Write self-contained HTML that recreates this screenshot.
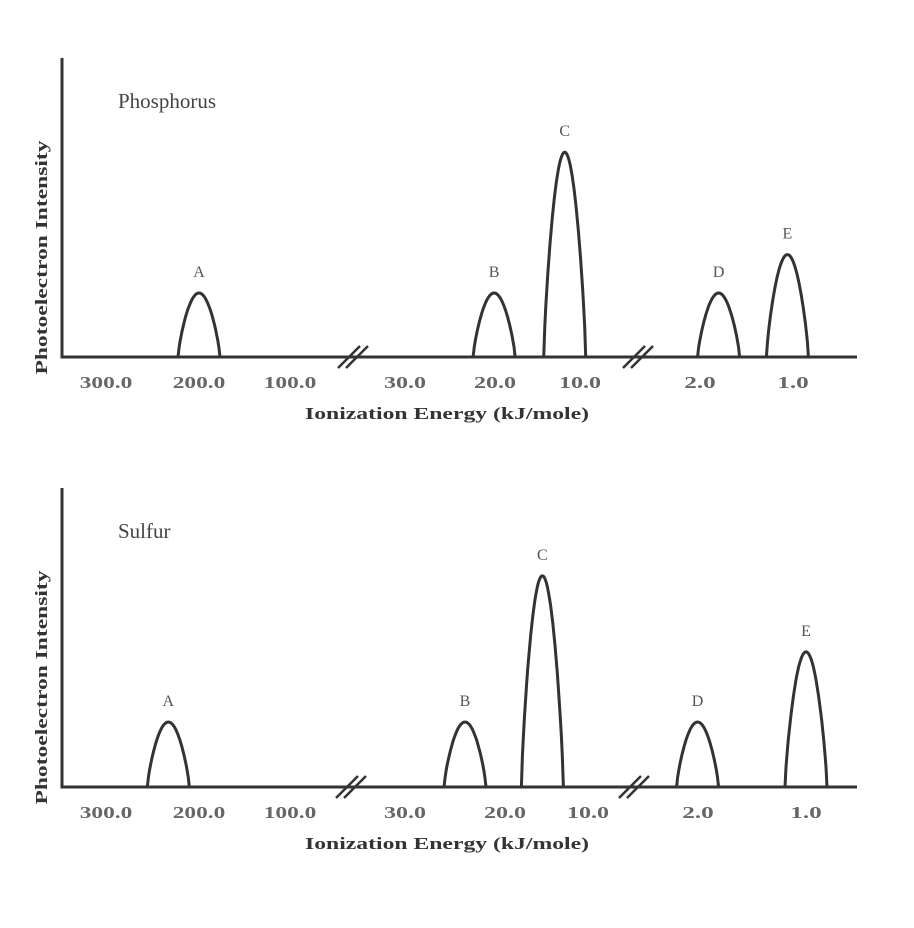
<!DOCTYPE html>
<html><head><meta charset="utf-8"><style>
body{margin:0;background:#fff;}
svg{display:block;font-family:"Liberation Serif",serif;}
.tick{font-size:17px;fill:#666;text-anchor:middle;font-weight:bold;}
.pl{font-size:16px;fill:#555;text-anchor:middle;}
.ttl{font-size:17px;font-weight:bold;fill:#333;text-anchor:middle;}
</style></head><body>
<svg id="chart" width="914" height="928"></svg>
<script>
const tickLabels = ["300.0","200.0","100.0","30.0","20.0","10.0","2.0","1.0"];
const tickValues = [300,200,100,30,20,10,2,1];
const peakLabels = ["A","B","C","D","E"];
const phosEnergy = [200,20.1,11.8,1.8,1.06];
const phosHeight = [1,1,3.2,1,1.6];
const sulfEnergy = [233,24,15.5,2.03,1.0];
const sulfHeight = [1,1,3.25,1,2.08];

const NS="http://www.w3.org/2000/svg";
const svg=document.getElementById('chart');
function mk(tag,attrs,parent,text){const e=document.createElementNS(NS,tag);for(const k in attrs)e.setAttribute(k,attrs[k]);if(text!==undefined)e.textContent=text;(parent||svg).appendChild(e);return e;}

function panel(cfg,energies,heights,title,name){
  const g=mk('g',{});
  
  
  const xs=cfg.tickPx;
  function xScale(v){
    for(let i=0;i<tickValues.length-1;i++){
      const a=tickValues[i],b=tickValues[i+1];
      if(v<=a&&v>=b) return xs[i]+(a-v)/(a-b)*(xs[i+1]-xs[i]);
    }
    return v>tickValues[0]?xs[0]:xs[xs.length-1];
  }
  const unit=cfg.unit;
  function yScale(h){return cfg.base-h*unit;}
  const ax=mk('path',{d:`M62 ${cfg.top} L62 ${cfg.base} L857 ${cfg.base}`,fill:'none',stroke:'#333','stroke-width':3},g);
  
  
  cfg.breaks.forEach(bx=>{
    const br=mk('path',{d:`M${bx-16} ${cfg.base+11} L${bx+6} ${cfg.base-11} M${bx-8} ${cfg.base+11} L${bx+14} ${cfg.base-11}`,stroke:'#333','stroke-width':2.5,fill:'none'},g);
    
    
  });
  tickLabels.forEach((t,i)=>{
    const tx=mk('text',{x:xScale(tickValues[i]),y:cfg.base+31,class:'tick',textLength:t.length*10.5,lengthAdjust:'spacingAndGlyphs'},g,t);
    
    
  });
  const xt=mk('text',{x:447,y:cfg.base+62,class:'ttl',textLength:284,lengthAdjust:'spacingAndGlyphs'},g,'Ionization Energy (kJ/mole)');
  
  
  const yc=(cfg.top+cfg.base)/2+50;
  const yt=mk('text',{x:47,y:yc,class:'ttl',transform:`rotate(-90 47 ${yc})`,textLength:234,lengthAdjust:'spacingAndGlyphs'},g,'Photoelectron Intensity');
  
  
  const tt=mk('text',{x:118,y:cfg.top+50,style:'font-size:21px;fill:#444'},g,title);
  
  
  energies.forEach((en,i)=>{
    const c=xScale(en),hw=21,top=yScale(heights[i]);
    let d='';
    for(let k=0;k<=40;k++){
      const u=-1+k/20;
      const y=cfg.base-(cfg.base-top)*Math.pow(Math.cos(u*Math.PI/2),0.75);
      d+=(k?'L':'M')+(c+u*hw).toFixed(1)+' '+y.toFixed(1);
    }
    const p=mk('path',{d,fill:'none',stroke:'#333','stroke-width':3},g);
    
    
    const l=mk('text',{x:c,y:top-16,class:'pl'},g,peakLabels[i]);
    
    
  });
}
panel({top:58,base:357,unit:64,tickPx:[106,199,290,405,495,580,700,793],breaks:[354,639]},phosEnergy,phosHeight,'Phosphorus','phosphorus-panel');
panel({top:488,base:787,unit:65,tickPx:[106,199,290,405,505,588,698,806],breaks:[352,635]},sulfEnergy,sulfHeight,'Sulfur','sulfur-panel');
</script>
</body></html>
